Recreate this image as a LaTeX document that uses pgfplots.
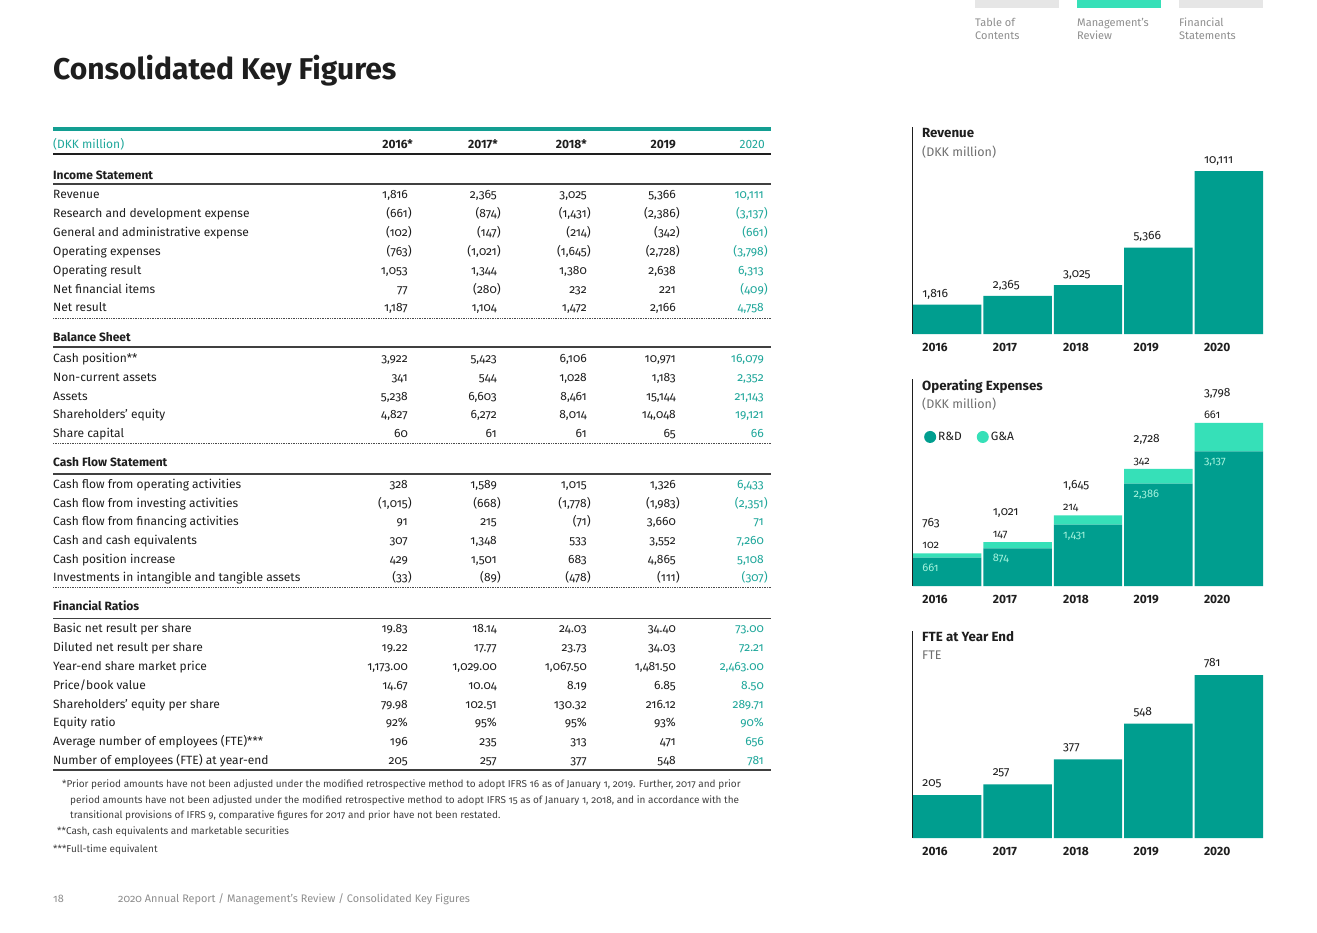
\documentclass[border=0pt]{standalone}
\usepackage{pgfplots}
\pgfplotsset{compat=1.18}
\usepackage{fontspec}
\setmainfont{Fira Sans}[Numbers=OldStyle]
\newfontfamily\lin{Fira Sans}[Numbers=Lining]
\definecolor{bar}{HTML}{009E8F}
\definecolor{mint}{HTML}{36E0B8}
\definecolor{tt}{HTML}{1FA79B}
\definecolor{rule}{HTML}{139E92}
\definecolor{txt}{HTML}{1E1E1E}
\definecolor{sub}{HTML}{6E6E6E}
\definecolor{nav}{HTML}{E6E6E6}
\definecolor{navt}{HTML}{8E8E8E}
\definecolor{inlab}{HTML}{A6F3DD}
\newcommand{\pn}[1]{(#1\rlap{)}}
\newcommand{\Row}[7]{%
  \node[anchor=base west,inner sep=0pt] at (53,#1) {#2};
  \node[anchor=base east,inner sep=0pt] at (408,#1) {#3};
  \node[anchor=base east,inner sep=0pt] at (497,#1) {#4};
  \node[anchor=base east,inner sep=0pt] at (587,#1) {#5};
  \node[anchor=base east,inner sep=0pt] at (676,#1) {#6};
  \node[anchor=base east,inner sep=0pt,text=tt] at (764,#1) {#7};}
\newcommand{\Sec}[2]{\node[anchor=base west,inner sep=0pt,font=\bfseries\fontsize{12}{14}\selectfont] at (53,#1) {#2};}
\pgfplotsset{kf/.style={
  scale only axis, width=352pt, height=207pt, anchor=south west,
  xmin=-0.5, xmax=4.5, ymin=0,
  axis lines=left, x axis line style={draw=none},
  y axis line style={-, line width=1pt, draw=txt},
  ytick=\empty, xtick={0,1,2,3,4}, xticklabels={2016,2017,2018,2019,2020},
  major tick length=0pt,
  xticklabel style={anchor=base west, inner sep=0pt, xshift=-25pt, yshift=-17.5pt,
     font={\lin\bfseries\fontsize{12}{14}\selectfont}, text=txt},
  clip=false, bar width=68.4pt,
},
lab/.style 2 args={only marks, mark=*, mark size=0pt, mark options={draw=none,fill=none,opacity=0},
  point meta=explicit symbolic, nodes near coords={\pgfplotspointmeta},
  every node near coord/.append style={anchor=base west, inner sep=0pt, xshift=-25pt, yshift=#1, text=#2, text opacity=1, opacity=1, font=\fontsize{12}{14}\selectfont}},
}
\begin{document}
\begin{tikzpicture}
\fill[white] (0,0) rectangle (1317pt,-932pt);
\begin{scope}[x=1pt,y=-1pt]
% navigation
\fill[nav] (975,0) rectangle (1059,8);
\fill[mint] (1077,0) rectangle (1161,8);
\fill[nav] (1179,0) rectangle (1263,8);
\begin{scope}[every node/.style={anchor=base west,inner sep=0pt,text=navt,font=\fontsize{11}{12}\selectfont}]
\node at (975,26.5) {Table of}; \node at (975,39.5) {Contents};
\node at (1077,26.5) {Management’s}; \node at (1077,39.5) {Review};
\node at (1179,26.5) {Financial}; \node at (1179,39.5) {Statements};
\end{scope}
% title
\node[anchor=base west,inner sep=0pt,text=txt,font=\bfseries\fontsize{30}{34}\selectfont] at (53,79) {Consolidated Key Figures};
% table
\begin{scope}[every node/.append style={text=txt,font=\fontsize{12}{14}\selectfont}]
\fill[rule] (53,126.5) rectangle (771,130.5);
\node[anchor=base west,inner sep=0pt,text=tt] at (53,148.5) {(DKK million)};
\begin{scope}[every node/.append style={font=\lin\bfseries\fontsize{12}{14}\selectfont}]
\node[anchor=base east,inner sep=0pt] at (413,148.5) {2016*};
\node[anchor=base east,inner sep=0pt] at (498,148.5) {2017*};
\node[anchor=base east,inner sep=0pt] at (587,148.5) {2018*};
\node[anchor=base east,inner sep=0pt] at (676,148.5) {2019};
\end{scope}
\node[anchor=base east,inner sep=0pt,text=tt,font=\lin\fontsize{12}{14}\selectfont] at (765,148.5) {2020};
\draw[line width=1.4pt,txt] (53,154) -- (771,154);
% Income statement
\Sec{179}{Income Statement}
\draw[line width=1.3pt,txt!85] (53,184) -- (771,184);
\Row{198.5}{Revenue}{1,816}{2,365}{3,025}{5,366}{10,111}
\Row{217.4}{Research and development expense}{\pn{661}}{\pn{874}}{\pn{1,431}}{\pn{2,386}}{\pn{3,137}}
\Row{236.3}{General and administrative expense}{\pn{102}}{\pn{147}}{\pn{214}}{\pn{342}}{\pn{661}}
\Row{255.2}{Operating expenses}{\pn{763}}{\pn{1,021}}{\pn{1,645}}{\pn{2,728}}{\pn{3,798}}
\Row{274.1}{Operating result}{1,053}{1,344}{1,380}{2,638}{6,313}
\Row{293.0}{Net financial items}{77}{\pn{280}}{232}{221}{\pn{409}}
\Row{311.9}{Net result}{1,187}{1,104}{1,472}{2,166}{4,758}
\draw[line width=0.7pt,txt!80,dash pattern=on 1pt off 0.7pt] (53,318) -- (771,318);
% Balance sheet
\Sec{341.5}{Balance Sheet}
\draw[line width=1.3pt,txt!85] (53,347) -- (771,347);
\Row{362.5}{Cash position**}{3,922}{5,423}{6,106}{10,971}{16,079}
\Row{381.3}{Non-current assets}{341}{544}{1,028}{1,183}{2,352}
\Row{400.0}{Assets}{5,238}{6,603}{8,461}{15,144}{21,143}
\Row{418.7}{Shareholders’ equity}{4,827}{6,272}{8,014}{14,048}{19,121}
\Row{437.4}{Share capital}{60}{61}{61}{65}{66}
\draw[line width=0.7pt,txt!80,dash pattern=on 1pt off 0.7pt] (53,443.5) -- (771,443.5);
% Cash flow
\Sec{466.7}{Cash Flow Statement}
\draw[line width=1.3pt,txt!85] (53,474) -- (771,474);
\Row{488.3}{Cash flow from operating activities}{328}{1,589}{1,015}{1,326}{6,433}
\Row{507.0}{Cash flow from investing activities}{\pn{1,015}}{\pn{668}}{\pn{1,778}}{\pn{1,983}}{\pn{2,351}}
\Row{525.7}{Cash flow from financing activities}{91}{215}{\pn{71}}{3,660}{71}
\Row{544.3}{Cash and cash equivalents}{307}{1,348}{533}{3,552}{7,260}
\Row{563.0}{Cash position increase}{429}{1,501}{683}{4,865}{5,108}
\Row{581.6}{Investments in intangible and tangible assets}{\pn{33}}{\pn{89}}{\pn{478}}{\pn{111}}{\pn{307}}
\draw[line width=0.7pt,txt!80,dash pattern=on 1pt off 0.7pt] (53,587.5) -- (771,587.5);
% Financial ratios
\Sec{610.7}{Financial Ratios}
\draw[line width=1.3pt,txt!85] (53,618.3) -- (771,618.3);
\Row{632.7}{Basic net result per share}{19.83}{18.14}{24.03}{34.40}{73.00}
\Row{651.6}{Diluted net result per share}{19.22}{17.77}{23.73}{34.03}{72.21}
\Row{670.4}{Year-end share market price}{1,173.00}{1,029.00}{1,067.50}{1,481.50}{2,463.00}
\Row{689.2}{Price/book value}{14.67}{10.04}{8.19}{6.85}{8.50}
\Row{708.0}{Shareholders’ equity per share}{79.98}{102.51}{130.32}{216.12}{289.71}
\Row{726.8}{Equity ratio}{92\%}{95\%}{95\%}{93\%}{90\%}
\Row{745.5}{Average number of employees (FTE)***}{196}{235}{313}{471}{656}
\Row{764.2}{Number of employees (FTE) at year-end}{205}{257}{377}{548}{781}
\draw[line width=1.6pt,txt!85] (53,770) -- (771,770);
\end{scope}
% footnotes
\begin{scope}[every node/.style={anchor=base west,inner sep=0pt,text=txt!85,font=\fontsize{10}{11}\selectfont}]
\node at (62,787.5) {*Prior period amounts have not been adjusted under the modified retrospective method to adopt IFRS 16 as of January 1, 2019. Further, 2017 and prior};
\node at (70,803.5) {period amounts have not been adjusted under the modified retrospective method to adopt IFRS 15 as of January 1, 2018, and in accordance with the};
\node at (70,818.5) {transitional provisions of IFRS 9, comparative figures for 2017 and prior have not been restated.};
\node at (57,834.5) {**Cash, cash equivalents and marketable securities};
\node at (53,852.5) {***Full-time equivalent};
\end{scope}
% footer
\node[anchor=base west,inner sep=0pt,text=navt,font=\fontsize{10.9}{12}\selectfont] at (53,902) {18};
\node[anchor=base west,inner sep=0pt,text=navt,font=\fontsize{10.9}{12}\selectfont] at (118,902) {2020 Annual Report / Management’s Review / Consolidated Key Figures};
% chart titles
\begin{scope}[every node/.style={anchor=base west,inner sep=0pt}]
\node[text=txt,font=\bfseries\fontsize{13.3}{14}\selectfont] at (922,137.5) {Revenue};
\node[text=sub,font=\fontsize{12.5}{14}\selectfont] at (922,156.5) {(DKK million)};
\node[text=txt,font=\bfseries\fontsize{13.3}{14}\selectfont] at (922,390.5) {Operating Expenses};
\node[text=sub,font=\fontsize{12.5}{14}\selectfont] at (922,408.5) {(DKK million)};
\node[text=txt,font=\bfseries\fontsize{13.3}{14}\selectfont] at (922,641.5) {FTE at Year End};
\node[text=sub,font=\fontsize{12.5}{14}\selectfont] at (922,659.5) {FTE};
\end{scope}
\end{scope}

% Revenue chart
\begin{axis}[kf, at={(912pt,-334pt)}, ymax=12840.5, ybar]
\addplot[fill=bar, draw=none, point meta=explicit symbolic, nodes near coords={\pgfplotspointmeta},
  every node near coord/.append style={anchor=base west, inner sep=0pt, xshift=-25pt, yshift=7.7pt, text=txt, font=\fontsize{12}{14}\selectfont}]
  coordinates {(0,1816) [{1,816}] (1,2365) [{2,365}] (2,3025) [{3,025}] (3,5366) [{5,366}] (4,10111) [{10,111}]};
\end{axis}

% Operating expenses chart
\begin{axis}[kf, at={(912pt,-586pt)}, ymax=4823, ybar stacked,
  legend style={at={(axis description cs:0.034,0.72)}, anchor=west, draw=none, fill=none,
    inner sep=0pt, legend columns=2, font=\fontsize{12}{14}\selectfont, text=txt,
    /tikz/every even column/.append style={column sep=13pt}},
  legend cell align=left]
\addplot[fill=bar, draw=none,
  legend image code/.code={\fill[bar] (6pt,0pt) circle (6pt);}]
  coordinates {(0,661) (1,874) (2,1431) (3,2386) (4,3137)};
\addlegendentry{R\&D}
\addplot[fill=mint, draw=none,
  legend image code/.code={\fill[mint] (6pt,0pt) circle (6pt);}]
  coordinates {(0,102) (1,147) (2,214) (3,342) (4,661)};
\addlegendentry{G\&A}
\end{axis}
% labels of the operating expenses chart (R&D inside, G&A and total above)
\begin{axis}[kf, at={(912pt,-586pt)}, ymax=4823, hide axis]
\addplot[lab={-13.5pt}{inlab}, every node near coord/.append style={font=\fontsize{11}{13}\selectfont}]
  coordinates {(0,661) [661] (1,874) [874] (2,1431) [{1,431}] (3,2386) [{2,386}] (4,3137) [{3,137}]};
\addplot[lab={4.5pt}{txt}, every node near coord/.append style={font=\fontsize{11}{13}\selectfont}]
  coordinates {(0,763) [102] (1,1021) [147] (2,1645) [214] (3,2728) [342] (4,3798) [661]};
\addplot[lab={26.5pt}{txt}]
  coordinates {(0,763) [763] (1,1021) [{1,021}] (2,1645) [{1,645}] (3,2728) [{2,728}] (4,3798) [{3,798}]};
\end{axis}

% FTE chart
\begin{axis}[kf, at={(912pt,-838pt)}, ymax=991.8, ybar]
\addplot[fill=bar, draw=none, point meta=explicit symbolic, nodes near coords={\pgfplotspointmeta},
  every node near coord/.append style={anchor=base west, inner sep=0pt, xshift=-25pt, yshift=8.5pt, text=txt, font=\fontsize{12}{14}\selectfont}]
  coordinates {(0,205) [205] (1,257) [257] (2,377) [377] (3,548) [548] (4,781) [781]};
\end{axis}
\pgfresetboundingbox
\useasboundingbox (0,0) rectangle (1317pt,-932pt);
\end{tikzpicture}
\end{document}
